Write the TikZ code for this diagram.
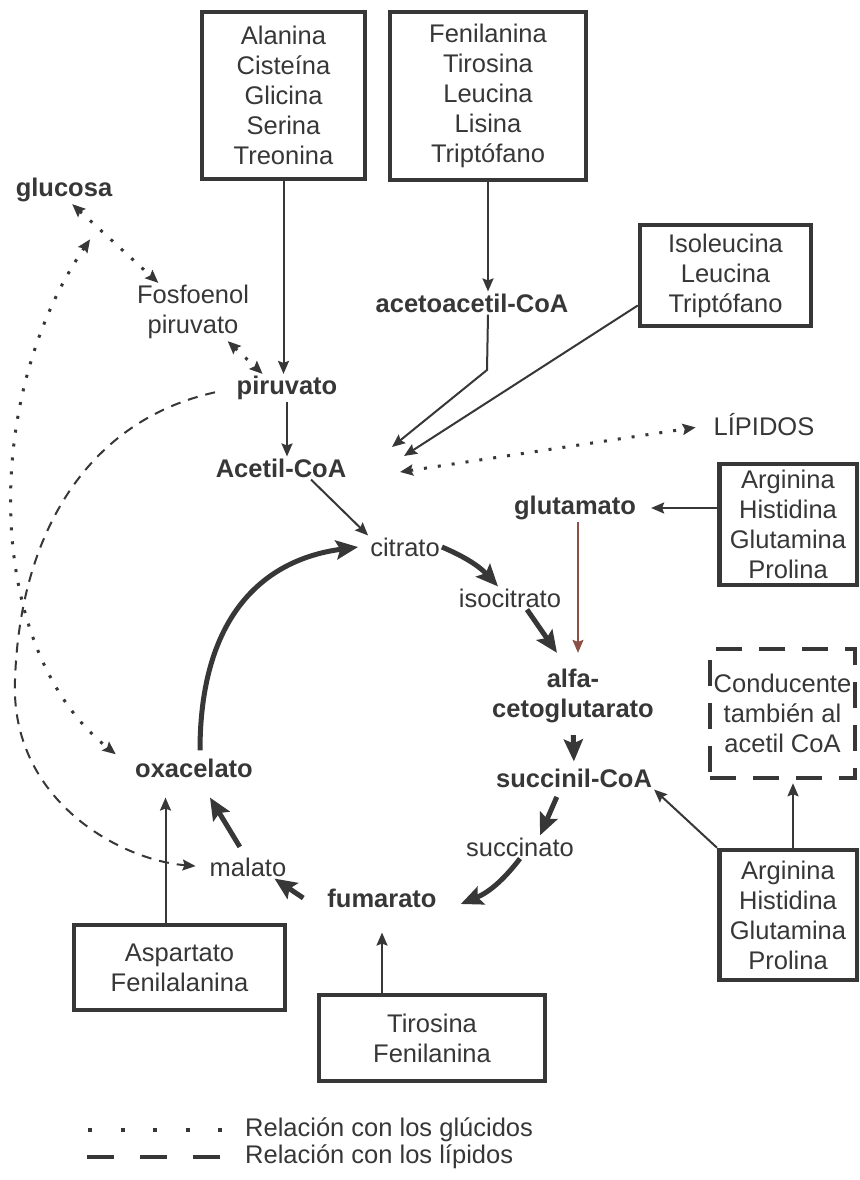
\documentclass[tikz,border=0pt]{standalone}
\usepackage{fontspec}
\setmainfont{Liberation Sans}
\usetikzlibrary{positioning,arrows.meta,calc}
\definecolor{inkcol}{RGB}{55,55,55}
\definecolor{glutcol}{RGB}{140,80,70}
\newcommand{\lblfont}{\fontsize{25.5}{30}\selectfont}

\begin{document}
\begin{tikzpicture}[x=1pt, y=-1pt,
  >={Stealth[length=13pt, width=11pt, inset=2pt]},
  aabox/.style={rectangle, draw=inkcol, line width=4.5pt, align=center,
                inner sep=0pt, font=\lblfont, text=inkcol},
  dashbox/.style={aabox, dash pattern=on 26pt off 17pt},
  met/.style={font=\lblfont, text=inkcol, align=center, inner sep=2pt},
  metb/.style={met, font=\lblfont\bfseries},
  ar/.style={->, line width=2pt, inkcol},
  cyc/.style={-{Stealth[length=22pt, width=19pt, inset=4pt]}, line width=5pt, inkcol},
  glu/.style={line width=3pt, dash pattern=on 3pt off 11pt, inkcol},
  lip/.style={line width=2pt, dash pattern=on 10pt off 8pt, inkcol},
  legdot/.style={line width=4pt, dash pattern=on 4pt off 28.5pt, inkcol},
  legdash/.style={line width=4.5pt, dash pattern=on 27pt off 26pt, inkcol}
]
\fill[white] (0,0) rectangle (859,1180);
\useasboundingbox (0,0) rectangle (859,1180);

\node[aabox, minimum width=163pt, minimum height=167pt] (aa1) at (283.5, 95.5)
  {Alanina\\Cisteína\\Glicina\\Serina\\Treonina};
\node[aabox, minimum width=196pt, minimum height=168pt] (bb1) at (488, 96)
  {Fenilanina\\Tirosina\\Leucina\\Lisina\\Triptófano};
\node[aabox, minimum width=171pt, minimum height=101pt] (iso) at (725.5, 275.5)
  {Isoleucina\\Leucina\\Triptófano};
\node[aabox, minimum width=137.5pt, minimum height=121pt] (arg1) at (788, 524.5)
  {Arginina\\Histidina\\Glutamina\\Prolina};
\node[dashbox, minimum width=145pt, minimum height=129pt] (cond) at (782.5, 713.5)
  {Conducente\\también al\\acetil CoA};
\node[aabox, minimum width=137.5pt, minimum height=130pt] (arg2) at (788, 915)
  {Arginina\\Histidina\\Glutamina\\Prolina};
\node[aabox, minimum width=211pt, minimum height=85pt] (asp) at (179.5, 967.5)
  {Aspartato\\Fenilalanina};
\node[aabox, minimum width=226pt, minimum height=86pt] (tir) at (432, 1038)
  {Tirosina\\Fenilanina};

\node[metb] (gluc)   at (64, 190)  {glucosa};
\node[met]  (fosfo)  at (193, 312) {Fosfoenol\\piruvato};
\node[metb] (piru)   at (287, 388) {piruvato};
\node[metb] (acetil) at (281, 468) {Acetil-CoA};
\node[metb] (acac)   at (472, 303) {acetoacetil-CoA};
\node[met]  (lipi)   at (764, 425) {LÍPIDOS};
\node[met]  (citr)   at (405, 547) {citrato};
\node[metb] (glut)   at (575, 508) {glutamato};
\node[met]  (isoc)   at (510, 598) {isocitrato};
\node[metb] (alfa)   at (573, 696) {alfa-\\cetoglutarato};
\node[metb] (succ)   at (574, 778) {succinil-CoA};
\node[met]  (sucn)   at (520, 847) {succinato};
\node[metb] (fuma)   at (382, 898) {fumarato};
\node[met]  (mala)   at (248, 867) {malato};
\node[metb] (oxa)    at (194, 768) {oxacelato};

\coordinate (inA)  at (392, 447);
\coordinate (inB)  at (404, 456);
\coordinate (inC)  at (400, 472);
\coordinate (knee) at (487, 370);

\draw[ar] (aa1.south) -- (aa1.south |- piru.north);
\draw[ar] (piru.south) -- (piru.south |- acetil.north);
\draw[ar] ([xshift=30pt]acetil.south) -- (citr.north west);
\draw[ar] (bb1.south) -- (bb1.south |- acac.north);
\draw[ar] (bb1.south |- acac.south) -- (knee) -- (inA);
\draw[ar] ([yshift=-30pt]iso.west) -- (inB);
\draw[glu, <->, shorten >=16pt] (inC) -- (lipi.west);
\draw[ar, shorten >=13pt] (arg1.west |- glut.east) -- (glut.east);
\draw[ar, glutcol, line width=1.5pt, shorten >=14pt] ([xshift=3pt]glut.south) -- ([xshift=3pt]glut.south |- alfa.north);
\draw[ar, shorten >=3pt] ([xshift=5pt]arg2.north) -- ([xshift=5pt]arg2.north |- cond.south);
\draw[ar] (arg2.north west) -- (succ.south east);
\draw[ar, shorten >=18pt] ([xshift=-14pt]asp.north) -- ([xshift=-14pt]asp.north |- oxa.south);
\draw[ar, shorten >=23pt] (fuma.south |- tir.north) -- (fuma.south);

\draw[cyc] (citr.east) to[bend left=12] ([xshift=-12pt]isoc.north);
\draw[cyc] ([xshift=17pt]isoc.south) -- ([xshift=-16pt, yshift=14pt]alfa.north);
\draw[cyc, shorten <=10pt, shorten >=5pt] (alfa.south) -- (succ.north);
\draw[cyc, shorten <=8pt] ([xshift=-14pt]succ.south) -- ([xshift=20pt]sucn.north);
\draw[cyc] (sucn.south) to[bend left=15] ([xshift=22pt, yshift=-6pt]fuma.east);
\draw[cyc] ([xshift=-22pt]fuma.west) -- ([xshift=-14pt]mala.south east);
\draw[cyc, shorten <=10pt] ([xshift=-3pt]mala.north) -- ([xshift=16pt, yshift=-18pt]oxa.south);
\draw[cyc, shorten <=6pt] ([xshift=6pt]oxa.north) .. controls (200,620) and (260,560) .. ([xshift=-10pt]citr.west);

\path (gluc.-60) -- (fosfo.140) coordinate[pos=0.3] (gfmid);
\draw[glu, <->] (gluc.-60) -- (fosfo.140);
\draw[glu, <->] (fosfo.-40) -- (piru.150);
\draw[glu, <->, shorten <=14pt, shorten >=22pt] (gfmid) .. controls (-20,400) and (-15,650) .. (oxa.west);
\draw[lip, ->, shorten <=20pt, shorten >=12pt] (piru.west) .. controls (90,420) and (20,530) .. (15,680)
  .. controls (10,800) and (120,860) .. (mala.west);

\node[met, anchor=west] (leg1) at (243, 1130) {Relación con los glúcidos};
\node[met, anchor=west] (leg2) at (243, 1157) {Relación con los lípidos};
\draw[legdot]  ([xshift=-155pt]leg1.west) -- ([xshift=-21pt]leg1.west);
\draw[legdash] ([xshift=-156pt]leg2.west) -- ([xshift=-23pt]leg2.west);

\end{tikzpicture}
\end{document}
